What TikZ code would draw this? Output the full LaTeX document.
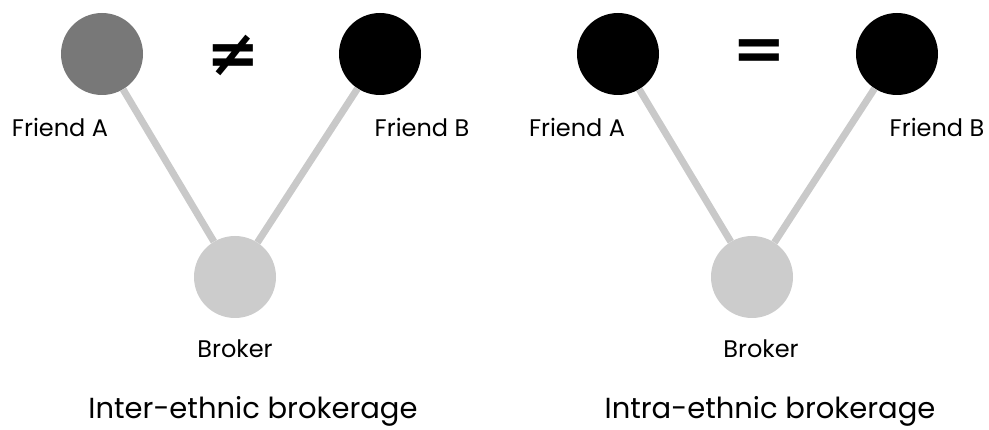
\documentclass[tikz,border=0pt]{standalone}
\usepackage{fontspec}
\setmainfont{Poppins}
\newfontfamily\symfont{DejaVu Sans}
\definecolor{tiegray}{HTML}{C9C9C9}
\definecolor{brokergray}{HTML}{CCCCCC}
\definecolor{midgray}{HTML}{787878}
\tikzset{
  person/.style={circle, minimum size=82pt, inner sep=0pt},
  tie/.style={draw=tiegray, line width=7pt},
  lbl/.style={font=\fontsize{24}{28}\selectfont},
  caption/.style={font=\fontsize{29}{34}\selectfont},
  relsign/.style={font=\symfont\bfseries\fontsize{64}{70}\selectfont}
}
\begin{document}
\begin{tikzpicture}[x=1pt,y=-1pt]
    \useasboundingbox (0,0) rectangle (989,430);
    % inter-ethnic
    \node[person, fill=midgray] (la) at (102,54) {};
    \node[person, fill=black] (lb) at (380,54) {};
    \node[person, fill=brokergray] (lk) at (235,277) {};
    \draw[tie] (la) -- (lk);
    \draw[tie] (lb) -- (lk);
    \node[relsign] (lneq) at (233,55) {≠};
    \node[lbl] (lalbl) at (60,127) {Friend A};
    \node[lbl] (lblbl) at (422,127) {Friend B};
    \node[lbl] (lklbl) at (235,349) {Broker};
    \node[caption] (lcap) at (253,411) {Inter-ethnic brokerage};
    % intra-ethnic
    \node[person, fill=black] (ra) at (618,54) {};
    \node[person, fill=black] (rb) at (897,54) {};
    \node[person, fill=brokergray] (rk) at (752,277) {};
    \draw[tie] (ra) -- (rk);
    \draw[tie] (rb) -- (rk);
    \node[relsign] (req) at (759,55) {=};
    \node[lbl] (ralbl) at (577,127) {Friend A};
    \node[lbl] (rblbl) at (937,127) {Friend B};
    \node[lbl] (rklbl) at (761,349) {Broker};
    \node[caption] (rcap) at (770,411) {Intra-ethnic brokerage};
\end{tikzpicture}
\end{document}
